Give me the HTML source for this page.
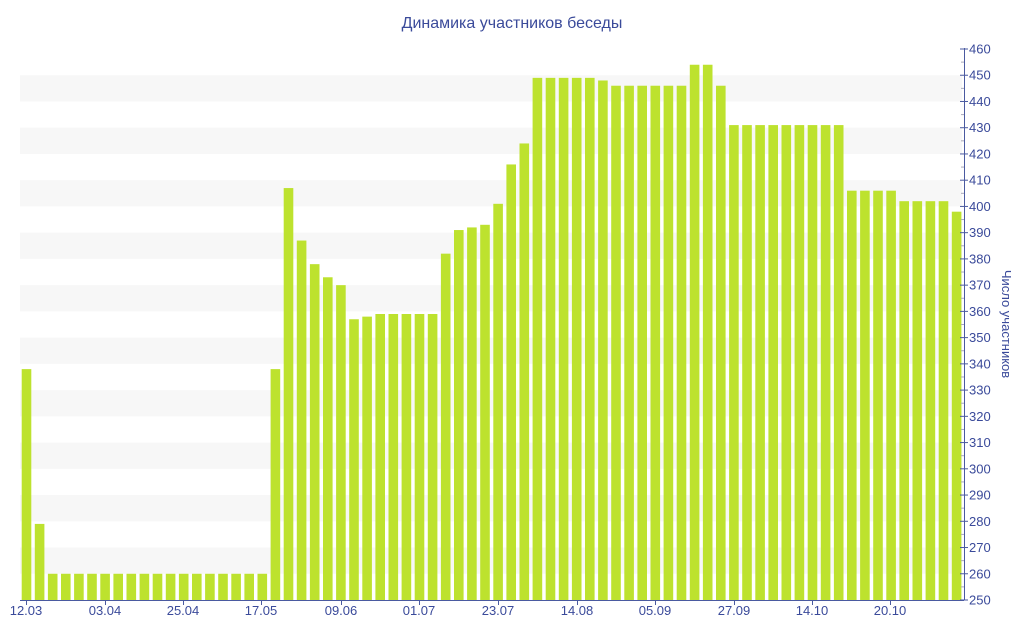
<!DOCTYPE html>
<html><head><meta charset="utf-8"><style>
html,body{margin:0;padding:0;background:#fff;width:1024px;height:640px;overflow:hidden}
svg{font-family:"Liberation Sans","DejaVu Sans",sans-serif}
</style></head><body>
<svg id="s" width="1024" height="640" xmlns="http://www.w3.org/2000/svg">
<text x="512" y="28" text-anchor="middle" font-size="16" fill="#3a4a9a">Динамика участников беседы</text>
<text transform="translate(1002,324) rotate(90)" text-anchor="middle" font-size="13" fill="#3a4a9a">Число участников</text>
</svg>
<script>
var s=document.getElementById('s'),NS='http://www.w3.org/2000/svg';
function el(t,a,txt){var e=document.createElementNS(NS,t);for(var k in a)e.setAttribute(k,a[k]);if(txt)e.textContent=txt;s.appendChild(e);return e;}
function y(v){return 600-(v-250)*551/210;}
for(var v=260;v<460;v+=20){el('rect',{x:20,y:y(v+10),width:942,height:y(v)-y(v+10),fill:'#f7f7f7'});}
var d=[338,279];for(var i=0;i<17;i++)d.push(260);
d=d.concat([338,407,387,378,373,370,357,358,359,359,359,359,359,382,391,392,393,401,416,424,449,449,449,449,449,448,446,446,446,446,446,446,454,454,446]);
for(i=0;i<9;i++)d.push(431);
d=d.concat([406,406,406,406,402,402,402,402,398]);
for(i=0;i<d.length;i++){var cx=26.5+i*13.1;el('rect',{x:cx-4.8,y:y(d[i]),width:9.6,height:600-y(d[i]),fill:'#bde22e'});}
el('line',{x1:20,y1:600.5,x2:964,y2:600.5,stroke:'#4a5aa0','stroke-width':1});
el('line',{x1:964.5,y1:48,x2:964.5,y2:600,stroke:'#4a5aa0','stroke-width':1});
for(v=250;v<=460;v+=5){var yy=y(v);var maj=v%10==0;
el('line',{x1:maj?960:961,y1:yy,x2:maj?968:964,y2:yy,stroke:maj?'#4a5aa0':'#aab',"stroke-width":1});
if(maj)el('text',{x:969,y:yy+4.5,'font-size':13,fill:'#3a4a9a'},String(v));}
var L=[['12.03',26],['03.04',105],['25.04',183],['17.05',261],['09.06',341],['01.07',419],['23.07',498],['14.08',577],['05.09',655],['27.09',734],['14.10',812],['20.10',890]];
L.forEach(function(l){el('line',{x1:l[1]+.5,y1:600,x2:l[1]+.5,y2:605,stroke:'#4a5aa0'});el('text',{x:l[1],y:615,'text-anchor':'middle','font-size':13,fill:'#3a4a9a'},l[0]);});
</script>
</body></html>
